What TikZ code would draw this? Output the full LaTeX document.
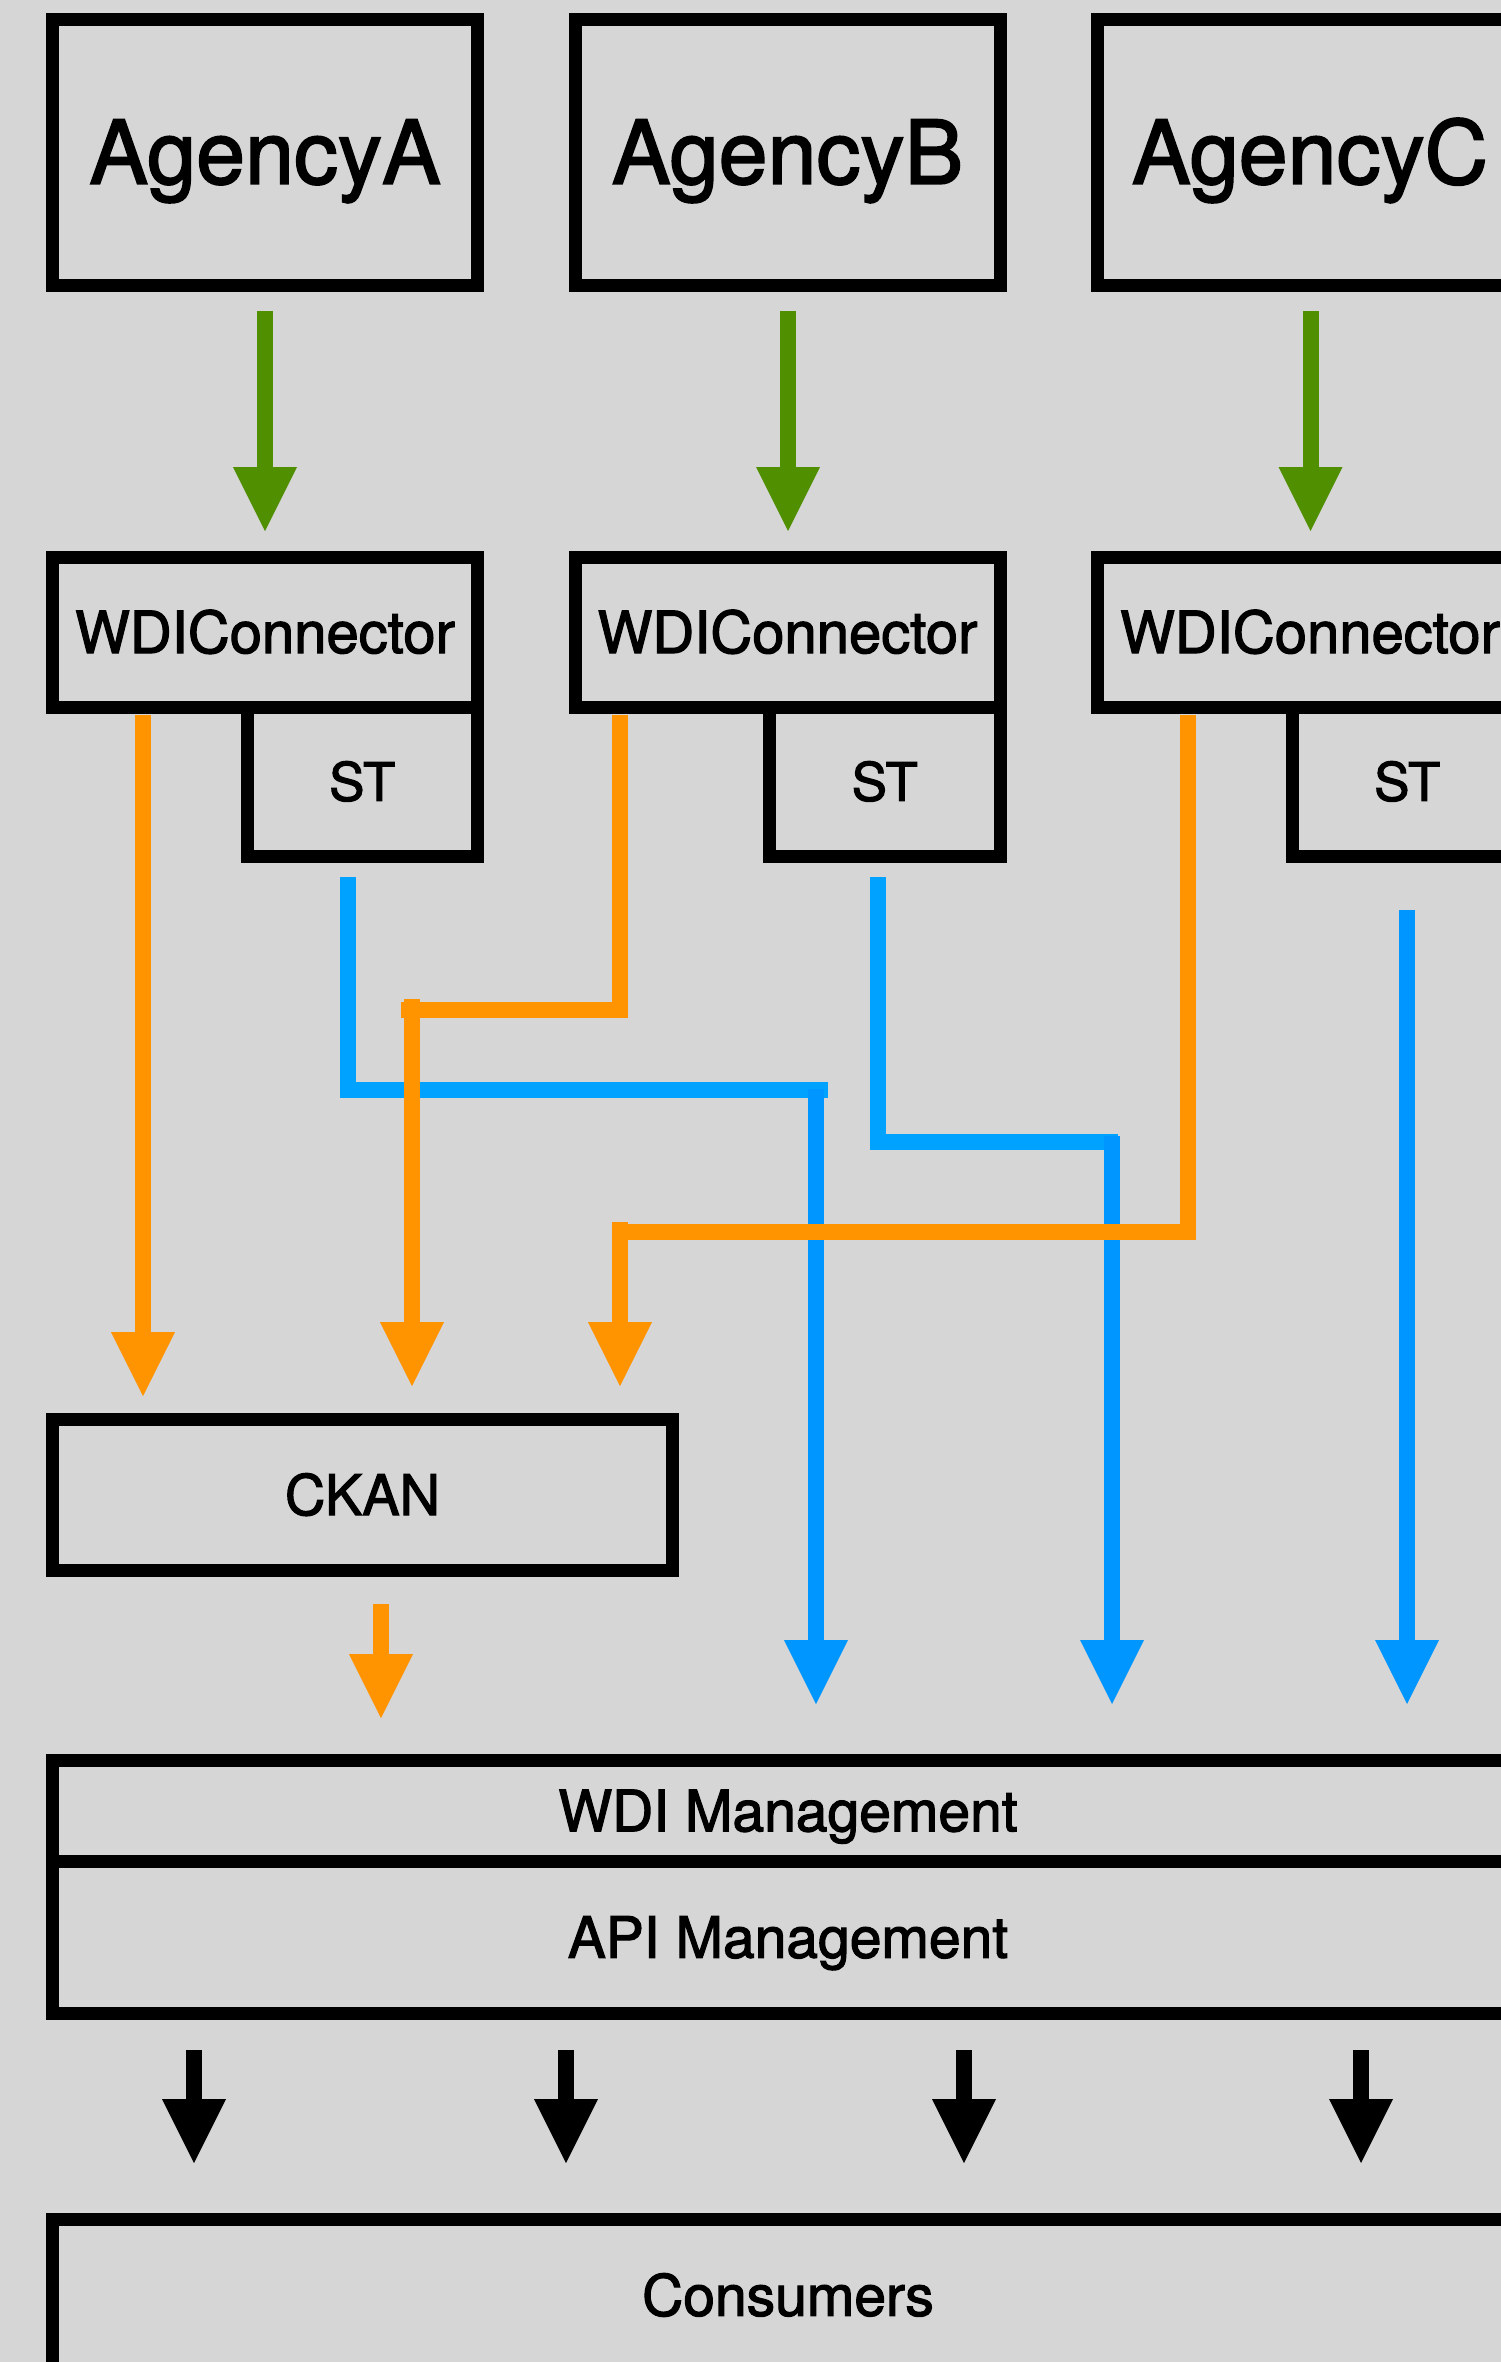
\documentclass[tikz,border=0pt]{standalone}
\usepackage{fontspec}
\setmainfont{TeX Gyre Heros}
\newfontfamily\medf{TeX Gyre Heros}[FakeBold=2]
\usetikzlibrary{arrows.meta,calc}
\definecolor{bgc}{HTML}{D6D6D6}
\definecolor{fern}{HTML}{4F8F00}
\definecolor{tang}{HTML}{FF9300}
\definecolor{skyb}{HTML}{00A2FF}
\definecolor{aqua}{HTML}{0096FF}
\begin{document}
\begin{tikzpicture}[x=1pt,y=-1pt,
  box/.style={draw=black, line width=13pt, inner sep=0pt, outer sep=0pt, rectangle, align=center},
  agbox/.style={box, minimum width=425pt, minimum height=266.5pt, font=\medf\fontsize{88pt}{96pt}\selectfont, text height=63pt, text depth=0pt},
  wdibox/.style={box, minimum width=425pt, minimum height=149.5pt, font=\medf\fontsize{58pt}{64pt}\selectfont, text height=41.5pt, text depth=0pt},
  stbox/.style={box, minimum width=230.5pt, minimum height=149.5pt, font=\medf\fontsize{53pt}{60pt}\selectfont, text height=38pt, text depth=0pt},
  midbox/.style={box, font=\medf\fontsize{57pt}{64pt}\selectfont, text height=41pt, text depth=0pt},
  tip/.style={-{Triangle[length=64pt,width=64pt,line width=0pt]}},
  conn/.style={line width=16pt, line cap=butt, line join=miter},
  grarr/.style={conn, fern, tip},
  orline/.style={conn, tang},
  orarr/.style={conn, tang, tip},
  blline/.style={conn, skyb},
  blarr/.style={conn, aqua, tip},
  bkarr/.style={conn, black, tip}
]
\useasboundingbox (0,0) rectangle (1501,2362);
\clip (0,0) rectangle (1501,2362);
\fill[bgc] (0,0) rectangle (1501,2362);

% Agencies
\node[agbox] (agA) at (265,152.25) {AgencyA};
\node[agbox] (agB) at (787.5,152.25) {AgencyB};
\node[agbox] (agC) at (1310,152.25) {AgencyC};

% Connectors
\node[wdibox] (wdiA) at (265,632.25) {WDIConnector};
\node[wdibox] (wdiB) at (787.5,632.25) {WDIConnector};
\node[wdibox] (wdiC) at (1310,632.25) {WDIConnector};

\node[stbox] (stA) at (362.25,781.75) {ST};
\node[stbox] (stB) at (884.75,781.75) {ST};
\node[stbox] (stC) at (1407.25,781.75) {ST};

% CKAN
\node[box, minimum width=620pt, minimum height=150.5pt, font=\medf\fontsize{56pt}{64pt}\selectfont, text height=40.5pt, text depth=0pt] (ckan) at (362.5,1494.75) {CKAN};

% Management
\node[midbox, minimum width=1471pt, minimum height=101.5pt] (wdim) at (788,1810.75) {WDI Management};
\node[midbox, minimum width=1471pt, minimum height=151.5pt] (apim) at (788,1937.25) {API Management};
\node[midbox, minimum width=1471pt, minimum height=151.5pt] (cons) at (788,2295.25) {Consumers};

% green arrows
\draw[grarr] ($(agA.south)+(0,25.5)$) -- ($(wdiA.north)+(0,-26.5)$);
\draw[grarr] ($(agB.south)+(0.5,25.5)$) -- ($(wdiB.north)+(0.5,-26.5)$);
\draw[grarr] ($(agC.south)+(0.5,25.5)$) -- ($(wdiC.north)+(0.5,-26.5)$);

% turn points
\coordinate (bA1) at (348,1089.7);
\coordinate (bA2) at (828,1089.7);
\coordinate (bA3) at (816,1089);
\coordinate (bB1) at (878,1142);
\coordinate (bB2) at (1118,1142);
\coordinate (bB3) at (1112,1136);
\coordinate (oB1) at (620,1010);
\coordinate (oB2) at (400.7,1010);
\coordinate (oB3) at (412,999);
\coordinate (oC1) at (1188,1232.3);
\coordinate (oC2) at (613,1232.3);
\coordinate (oC3) at (620,1222);

% blue flows
\draw[blline] ($(stA.south)+(-14.25,20.5)$) -- (bA1) -- (bA2);
\draw[blarr] (bA3) -- (bA3 |- {$(wdim.north)+(0,-56)$});
\draw[blline] ($(stB.south)+(-6.75,20.5)$) -- (bB1) -- (bB2);
\draw[blarr] (bB3) -- (bB3 |- {$(wdim.north)+(0,-56)$});
\draw[blarr] ($(stC.south)+(-0.25,53.5)$) -- ($(stC.south)+(-0.25,847.5)$);

% orange flows
\draw[orarr] ($(wdiA.south)+(-122,8)$) -- ($(ckan.north)+(-219.5,-23.5)$);
\draw[orline] ($(wdiB.south)+(-167.5,8)$) -- (oB1) -- (oB2);
\draw[orarr] (oB3) -- ($(ckan.north)+(49.5,-33.5)$);
\draw[orline] ($(wdiC.south)+(-122,8)$) -- (oC1) -- (oC2);
\draw[orarr] (oC3) -- ($(ckan.north)+(257.5,-33.5)$);
\draw[orarr] ($(ckan.south)+(18.5,34)$) -- ($(wdim.north)+(-407,-42)$);

% black arrows
\draw[bkarr] ($(apim.south)+(-594,37)$) -- ($(cons.north)+(-594,-56.5)$);
\draw[bkarr] ($(apim.south)+(-222,37)$) -- ($(cons.north)+(-222,-56.5)$);
\draw[bkarr] ($(apim.south)+(176,37)$) -- ($(cons.north)+(176,-56.5)$);
\draw[bkarr] ($(apim.south)+(573,37)$) -- ($(cons.north)+(573,-56.5)$);
\end{tikzpicture}
\end{document}
